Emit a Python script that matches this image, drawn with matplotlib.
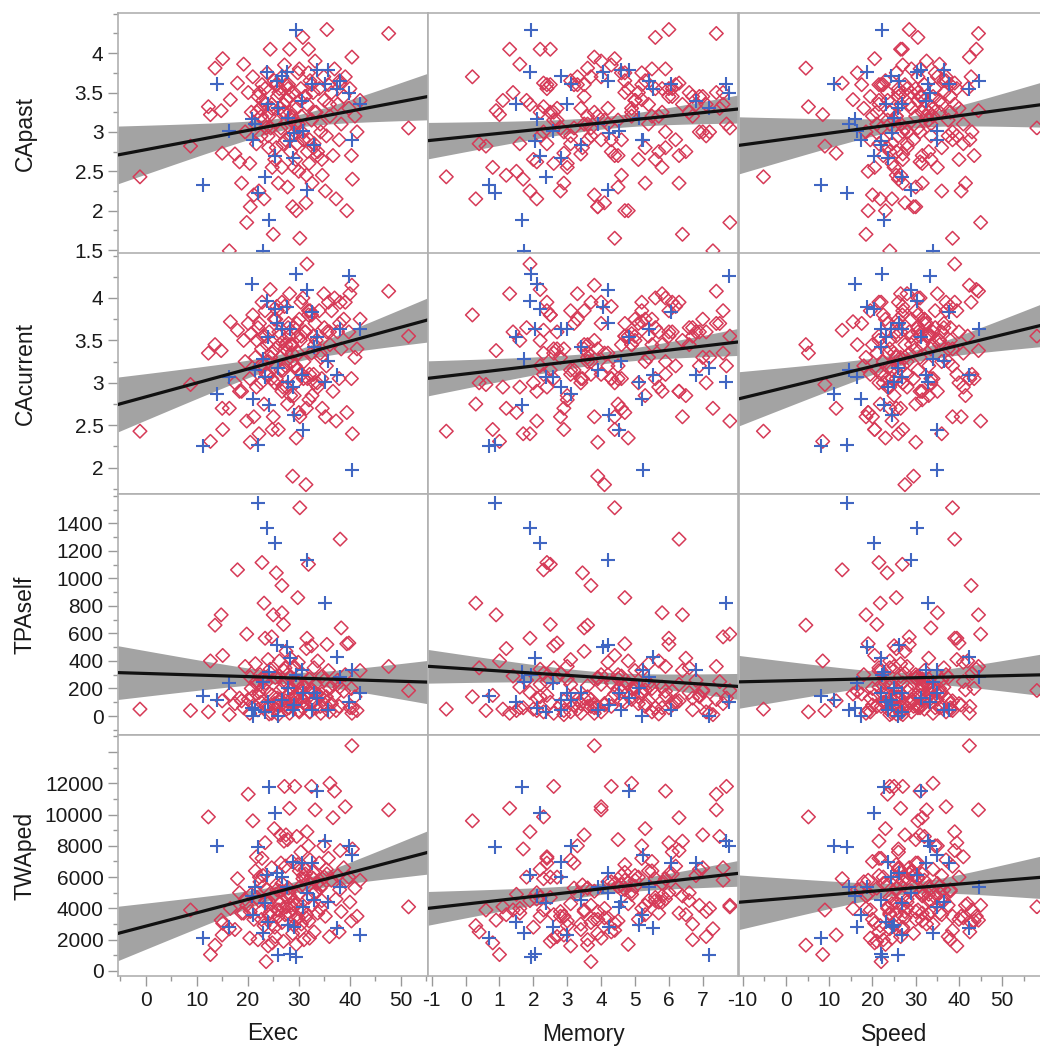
import numpy as np
import matplotlib.pyplot as plt
from matplotlib.ticker import MultipleLocator, FixedLocator

plt.rcParams['font.family'] = ['Liberation Sans', 'DejaVu Sans']

# ---- group A (red diamonds) ----
exec_a = [-1.1, 8.8, 12.3, 12.7, 13.6, 14.8, 15.1, 15.0, 16.4, 16.6,
          17.5, 18.0, 18.4, 39.4, 19.2, 19.5, 19.8, 20.1, 20.4, 20.7,
          21.0, 21.2, 21.5, 21.7, 22.0, 22.2, 22.4, 22.8, 22.6, 23.0,
          23.2, 23.4, 23.6, 23.8, 36.7, 24.2, 24.4, 24.7, 24.8, 25.0,
          25.2, 25.4, 25.6, 25.8, 40.5, 26.2, 26.4, 26.7, 26.7, 27.0,
          27.2, 27.4, 27.6, 27.8, 28.0, 28.2, 28.4, 28.6, 28.8, 29.0,
          29.2, 29.4, 29.8, 29.6, 30.0, 30.2, 30.4, 30.6, 30.8, 31.0,
          31.2, 31.4, 31.6, 31.9, 32.0, 32.2, 32.5, 32.6, 32.8, 33.0,
          33.2, 33.4, 33.7, 34.0, 34.3, 34.6, 34.9, 35.5, 35.2, 35.8,
          36.1, 36.4, 24.0, 37.0, 37.3, 37.6, 37.9, 38.1, 38.3, 38.8,
          39.1, 18.8, 39.8, 40.0, 40.3, 40.4, 41.0, 41.4, 42.0, 47.6,
          23.1, 25.3, 27.1, 28.5, 30.1, 31.5, 33.1, 26.5, 29.5, 51.5,
          22.3, 24.7, 26.9, 28.1, 29.9, 32.5, 34.5, 36.0, 20.5, 38.0,
          21.8, 24.1, 27.5, 30.5, 32.1, 35.0, 25.7, 29.1, 31.9, 26.0,
          26.3, 29.7, 31.3, 24.5, 33.6, 27.9, 22.7, 35.4, 30.3, 28.7,
          25.5, 32.9, 27.3, 30.9, 23.5, 34.2, 29.3, 26.1, 31.7, 28.3]
memory_a = [-0.57, 0.6, 2.3, 1.0, 3.6, 0.9, 4.4, 2.9, 7.3, 5.2,
            3.4, 2.3, 2.1, 4.7, 1.6, 5.9, 7.8, 7.4, 2.6, 4.9,
            0.2, 3.8, 5.4, 2.4, 6.7, 1.9, 4.2, 2.4, 7.1, 5.0,
            0.3, 6.0, 3.7, 4.6, 6.3, 5.7, 2.2, 7.6, 0.8, 6.4,
            5.3, 2.7, 3.45, 3.5, 1.7, 4.8, 7.0, 3.7, 5.8, 2.5,
            4.3, 6.2, 1.1, 4.5, 3.2, 1.3, 6.5, 5.5, 3.9, 6.6,
            7.7, 5.1, 4.7, 7.5, 1.5, 4.4, 6.1, 2.3, 5.6, 3.6,
            6.9, 4.1, 1.9, 2.5, 3.0, 3.1, 2.6, 5.3, 4.7, 0.4,
            4.0, 3.8, 5.7, 2.4, 7.2, 4.6, 3.3, 6.0, 2.8, 5.2,
            4.9, 7.6, 3.1, 5.9, 2.1, 6.8, 4.3, 6.3, 3.5, 7.0,
            4.0, 6.3, 2.7, 5.8, 4.5, 3.8, 3.6, 2.9, 5.0, 7.4,
            4.5, 2.0, 6.4, 3.7, 5.5, 1.2, 6.6, 3.2, 4.8, 7.8,
            5.1, 3.4, 1.6, 6.0, 4.2, 2.5, 5.6, 7.1, 3.9, 4.7,
            2.2, 5.3, 3.5, 6.7, 4.0, 1.8, 6.2, 3.0, 5.2, 2.9,
            4.9, 3.1, 6.1, 2.8, 4.4, 5.6, 3.9, 2.2, 5.0, 4.1,
            3.3, 5.9, 2.6, 4.6, 5.4, 3.6, 6.9, 1.4, 4.3, 5.8]
speed_a = [-5.2, 9.0, 5.2, 8.5, 4.6, 44.5, 20.5, 11.6, 24.0, 15.5,
           27.0, 13.0, 31.0, 19.0, 35.5, 28.0, 45.0, 23.5, 24.5, 33.0,
           30.5, 20.0, 26.5, 41.0, 38.0, 36.0, 18.0, 21.5, 33.5, 21.5,
           21.8, 39.5, 22.0, 16.5, 31.5, 25.5, 44.0, 28.5, 20.5, 18.5,
           23.0, 37.5, 23.4, 19.5, 26.0, 42.0, 31.0, 42.8, 35.0, 21.0,
           27.0, 38.5, 23.5, 30.0, 17.5, 26.5, 33.0, 20.0, 29.5, 36.5,
           24.0, 40.0, 25.5, 32.0, 19.0, 38.5, 26.0, 43.0, 30.5, 22.5,
           34.0, 27.5, 39.0, 26.9, 31.5, 37.0, 25.0, 41.5, 29.0, 21.5,
           32.5, 38.0, 24.0, 30.0, 18.5, 26.5, 35.0, 28.5, 40.5, 22.0,
           34.0, 27.0, 39.5, 31.0, 24.5, 36.0, 42.5, 39.0, 33.5, 26.0,
           37.0, 31.5, 40.0, 28.0, 43.5, 42.4, 25.5, 38.5, 32.0, 44.5,
           33.0, 27.0, 21.5, 37.5, 29.0, 25.5, 35.5, 30.5, 23.0, 58.0,
           26.0, 34.0, 28.0, 31.0, 41.0, 22.5, 33.5, 26.5, 30.0, 36.5,
           24.0, 36.0, 27.5, 32.5, 19.5, 30.5, 38.0, 25.0, 34.5, 27.0,
           29.0, 24.5, 31.5, 27.5, 22.5, 34.5, 30.0, 26.0, 35.5, 23.5,
           32.0, 28.0, 24.0, 29.5, 33.0, 21.0, 27.0, 30.5, 25.5, 31.5]
capast_a = [2.43, 2.82, 3.32, 3.22, 3.81, 3.27, 3.93, 2.73, 1.49, 3.41,
            2.72, 3.62, 2.62, 2.00, 3.86, 3.00, 1.85, 3.50, 2.60, 3.25,
            3.70, 2.20, 3.10, 2.85, 3.45, 2.25, 3.30, 3.60, 2.95, 3.40,
            2.15, 3.55, 3.05, 3.75, 2.70, 3.20, 4.05, 3.35, 2.55, 1.70,
            3.65, 3.15, 2.80, 3.45, 2.40, 3.55, 3.00, 3.70, 2.55, 3.25,
            3.85, 2.90, 3.40, 2.30, 3.60, 4.05, 2.75, 3.20, 2.05, 3.50,
            3.10, 2.65, 3.75, 3.30, 2.50, 1.65, 3.55, 3.00, 4.20, 2.90,
            3.45, 2.10, 3.35, 4.05, 2.60, 3.65, 3.15, 2.35, 3.50, 2.85,
            3.90, 3.25, 2.75, 3.55, 3.00, 2.45, 3.70, 4.30, 2.25, 3.60,
            3.20, 3.50, 2.95, 3.80, 2.15, 3.35, 2.90, 3.62, 3.10, 3.45,
            3.70, 2.35, 3.30, 3.55, 2.70, 3.95, 3.20, 3.00, 3.40, 4.25,
            3.15, 2.65, 3.35, 2.95, 3.80, 2.45, 3.25, 3.05, 2.00, 3.05,
            3.50, 3.30, 2.85, 3.45, 3.10, 3.60, 2.65, 3.35, 2.05, 3.65,
            3.25, 2.80, 3.60, 3.20, 2.90, 3.40, 3.60, 2.55, 3.75, 2.35,
            3.30, 2.85, 3.45, 3.05, 2.70, 3.55, 3.20, 2.95, 3.40, 3.15,
            3.60, 2.80, 3.25, 2.90, 3.35, 3.10, 3.00, 3.50, 2.75, 3.25]
cacurrent_a = [2.43, 2.98, 3.35, 2.31, 3.45, 3.38, 2.45, 2.70, 2.70, 3.72,
               3.00, 3.62, 2.90, 2.65, 3.50, 3.25, 2.55, 3.70, 3.05, 3.58,
               3.80, 2.60, 3.30, 2.95, 3.65, 2.40, 3.20, 3.95, 3.00, 3.55,
               2.75, 3.85, 3.10, 3.45, 2.90, 3.60, 4.10, 3.35, 2.45, 2.60,
               3.75, 3.40, 3.05, 3.85, 2.40, 3.55, 3.30, 3.95, 2.90, 3.15,
               3.90, 3.20, 2.95, 2.75, 3.70, 4.05, 2.85, 3.45, 1.90, 3.65,
               3.20, 3.00, 3.55, 3.70, 2.65, 2.60, 3.95, 3.10, 4.00, 3.25,
               3.60, 1.80, 4.40, 3.80, 2.80, 3.85, 3.35, 2.85, 3.55, 3.00,
               3.70, 3.50, 2.95, 3.85, 3.30, 2.70, 4.05, 3.60, 2.60, 3.95,
               3.45, 3.85, 3.10, 4.00, 2.55, 3.60, 3.05, 3.95, 3.40, 3.75,
               3.95, 2.90, 3.60, 4.05, 3.05, 4.15, 3.30, 3.40, 3.75, 4.08,
               3.20, 3.00, 3.50, 3.25, 3.75, 2.70, 3.45, 3.15, 2.35, 3.55,
               3.70, 3.05, 2.95, 3.55, 3.35, 3.80, 3.05, 3.60, 2.30, 3.70,
               3.50, 3.25, 3.45, 3.55, 3.10, 3.65, 3.90, 2.85, 3.85, 2.45,
               3.45, 3.15, 3.60, 3.30, 3.00, 3.65, 3.40, 3.20, 3.50, 3.35,
               3.75, 3.10, 3.40, 3.05, 3.55, 3.35, 3.20, 3.60, 3.05, 3.45]
tpaself_a = [50, 40, 30, 400, 660, 735, 440, 110, 10, 160,
             90, 1062, 130, 525, 60, 360, 595, 120, 20, 200,
             140, 80, 380, 250, 45, 170, 300, 1115, 100, 210,
             820, 565, 70, 180, 230, 15, 340, 575, 150, 735,
             90, 280, 1040, 130, 60, 400, 190, 948, 750, 665,
             240, 110, 50, 300, 160, 20, 420, 200, 70, 350,
             130, 90, 860, 250, 40, 1513, 180, 310, 60, 220,
             140, 80, 565, 1102, 270, 30, 510, 190, 100, 350,
             230, 60, 400, 150, 20, 290, 120, 520, 80, 330,
             200, 90, 410, 150, 40, 260, 70, 1285, 640, 180,
             300, 110, 530, 60, 200, 20, 140, 40, 330, 360,
             270, 50, 330, 120, 30, 490, 170, 80, 240, 185,
             140, 20, 210, 60, 390, 100, 160, 30, 280, 210,
             230, 70, 470, 130, 30, 260, 90, 360, 180, 10,
             120, 230, 80, 310, 160, 60, 270, 140, 200, 90,
             50, 180, 350, 110, 240, 70, 150, 290, 130, 210]
twaped_a = [np.nan, 3900, 9850, 1050, 1650, 3250, 3050, 2300, 2700, 4000,
            2650, 5900, 5000, 5800, 3700, 4600, 4200, 11300, 2100, 4900,
            9600, 3300, 6400, 7300, 2000, 4500, 5700, 7200, 3800, 6100,
            2900, 8200, 600, 5200, 9800, 4400, 3500, 6600, 1800, 4800,
            9100, 2200, 5500, 3900, 7800, 4300, 8700, 3100, 5600, 1900,
            11800, 6700, 4100, 8400, 5300, 10400, 3600, 7000, 2400, 4500,
            11800, 3300, 6800, 8600, 4900, 2600, 7600, 3900, 5900, 2000,
            6500, 3400, 8900, 4700, 3200, 7100, 11800, 4200, 6300, 2500,
            10300, 5100, 3700, 6900, 4000, 5500, 8000, 6200, 3500, 7200,
            12000, 5800, 1600, 11500, 4600, 6100, 2500, 7700, 3800, 6600,
            10500, 3700, 6000, 4400, 3200, 14400, 5300, 3500, 5800, 10300,
            5400, 2800, 8300, 4200, 6400, 3600, 5000, 6900, 1700, 4100,
            6000, 3000, 4000, 5000, 3400, 6000, 4500, 2200, 3800, 5200,
            4700, 3600, 8700, 3000, 2100, 6000, 5200, 2900, 8000, 3500,
            5100, 4300, 6200, 3800, 5600, 4700, 3300, 6500, 5400, 4000,
            4900, 5900, 3600, 6100, 4500, 5300, 4200, 3900, 5700, 4800]

# ---- group B (blue plus) ----
exec_b = [11.2, 14.0, 16.4, 20.8, 21.1, 21.4, 22.1, 22.9, 23.4, 23.7,
          23.9, 24.2, 25.4, 25.7, 25.9, 26.7, 27.6, 27.8, 28.3, 28.9,
          29.0, 29.5, 30.6, 30.9, 31.6, 32.5, 32.9, 33.5, 35.2, 35.8,
          37.5, 38.1, 39.9, 40.4, 42.0]
memory_b = [0.69, 3.12, 2.58, 2.11, 5.22, 3.90, 0.86, 1.71, 2.38, 1.90,
            1.48, 1.65, 2.20, 4.19, 7.19, 2.82, 4.05, 5.13, 2.04, 2.82,
            4.24, 1.94, 6.80, 4.54, 4.20, 6.06, 3.41, 4.83, 7.70, 4.60,
            5.52, 5.42, 7.77, 5.24, 3.00]
speed_b = [8.1, 11.2, 16.5, 16.0, 17.3, 14.6, 14.2, 33.9, 26.9, 30.3,
           23.1, 22.7, 20.4, 26.2, 25.8, 24.2, 18.8, 25.0, 22.0, 23.5,
           24.6, 22.2, 32.3, 35.0, 28.9, 37.7, 21.9, 31.2, 32.9, 36.6,
           42.3, 44.6, 33.3, 35.0, 26.9]
capast_b = [2.33, 3.61, 3.01, 3.17, 2.90, 3.10, 2.22, 1.49, 2.43, 3.76,
            3.35, 1.88, 2.69, 3.65, 3.31, 3.71, 3.76, 3.18, 2.88, 2.67,
            2.99, 4.30, 3.39, 3.01, 2.26, 3.61, 2.84, 3.78, 3.61, 3.78,
            3.55, 3.65, 3.50, 2.90, 3.35]
cacurrent_b = [2.25, 2.87, 3.07, 4.16, 2.81, 3.15, 2.27, 3.28, 3.07, 3.97,
               3.54, 2.74, 3.87, 3.71, 3.17, 3.64, 3.89, 3.01, 3.64, 2.95,
               2.62, 4.28, 3.09, 2.44, 4.09, 3.83, 3.42, 3.54, 3.01, 3.26,
               3.09, 3.64, 4.26, 1.97, 3.64]
tpaself_b = [145, 116, 238, 60, 0, 44, 1547, 250, 30, 1365,
             100, 322, 1260, 516, 0, 116, 504, 200, 420, 44,
             80, 300, 335, 165, 1135, 44, 165, 130, 820, 44,
             431, 280, 104, 335, 165]
twaped_b = [2089, 7987, 2831, 4800, 3600, 5387, 7904, 2400, 4326, 6134,
            3150, 11776, 10077, 6243, 1022, 6026, 5387, 2939, 1100, 6984,
            2831, 914, 6882, 4109, 4965, 6882, 4537, 11520, 8326, 4428,
            2728, 5387, 7987, 7412, 2300]

x_names = ['Exec', 'Memory', 'Speed']
y_names = ['CApast', 'CAcurrent', 'TPAself', 'TWAped']
xa = {'Exec': exec_a, 'Memory': memory_a, 'Speed': speed_a}
xb = {'Exec': exec_b, 'Memory': memory_b, 'Speed': speed_b}
ya = {'CApast': capast_a, 'CAcurrent': cacurrent_a, 'TPAself': tpaself_a, 'TWAped': twaped_a}
yb = {'CApast': capast_b, 'CAcurrent': cacurrent_b, 'TPAself': tpaself_b, 'TWAped': twaped_b}

# axis settings
xlims = {'Exec': (-5.4, 55.3), 'Memory': (-1.11, 8.04), 'Speed': (-10.85, 60.8)}
xmajor = {'Exec': [0, 10, 20, 30, 40, 50], 'Memory': [-1, 0, 1, 2, 3, 4, 5, 6, 7],
          'Speed': [-10, 0, 10, 20, 30, 40, 50]}
xminor = {'Exec': 5, 'Memory': None, 'Speed': 5}
ylims = {'CApast': (1.45, 4.51), 'CAcurrent': (1.69, 4.53),
         'TPAself': (-138, 1613), 'TWAped': (-320, 15086)}
ymajor = {'CApast': [1.5, 2, 2.5, 3, 3.5, 4], 'CAcurrent': [2, 2.5, 3, 3.5, 4],
          'TPAself': [0, 200, 400, 600, 800, 1000, 1200, 1400],
          'TWAped': [0, 2000, 4000, 6000, 8000, 10000, 12000, 14000]}
yminor = {'CApast': 0.25, 'CAcurrent': 0.25, 'TPAself': 100, 'TWAped': 1000}

red = '#D63A57'
blue = '#4066C2'
band_col = '#A3A3A3'
frame = '#B0B0B0'


def fit_band(x, y, xs):
    ok = ~np.isnan(x) & ~np.isnan(y)
    x, y = x[ok], y[ok]
    n = len(x)
    b1, b0 = np.polyfit(x, y, 1)
    s = np.sqrt(np.sum((y - (b0 + b1 * x)) ** 2) / (n - 2))
    sxx = np.sum((x - x.mean()) ** 2)
    se = s * np.sqrt(1 / n + (xs - x.mean()) ** 2 / sxx)
    return b0 + b1 * xs, 1.97 * se


W, H = 1040, 1047
col_left = [118, 428, 739]
col_w = 310
row_top = [13, 253, 494, 735]
row_h = 241

fig = plt.figure(figsize=(W / 100, H / 100), dpi=100)

for i, yn in enumerate(y_names):
    for j, xn in enumerate(x_names):
        ax = fig.add_axes([col_left[j] / W, 1 - (row_top[i] + row_h) / H,
                           col_w / W, row_h / H])
        x_all = np.array(xa[xn] + xb[xn], dtype=float)
        y_all = np.array(ya[yn] + yb[yn], dtype=float)
        xs = np.linspace(*xlims[xn], 200)
        yhat, hw = fit_band(x_all, y_all, xs)
        ax.fill_between(xs, yhat - hw, yhat + hw, color=band_col, lw=0, zorder=1)
        ax.scatter(xa[xn], ya[yn], marker='D', s=48, facecolors='none',
                   edgecolors=red, linewidths=1.1, zorder=2)
        ax.scatter(xb[xn], yb[yn], marker='+', s=90, c=blue,
                   linewidths=1.5, zorder=3)
        ax.plot(xs, yhat, color='#111111', lw=2.3, zorder=4)

        ax.set_xlim(*xlims[xn])
        ax.set_ylim(*ylims[yn])
        for sp in ax.spines.values():
            sp.set_color(frame)
            sp.set_linewidth(1.2)

        ax.xaxis.set_major_locator(FixedLocator(xmajor[xn]))
        if xminor[xn]:
            ax.xaxis.set_minor_locator(MultipleLocator(xminor[xn]))
        ax.yaxis.set_major_locator(FixedLocator(ymajor[yn]))
        ax.yaxis.set_minor_locator(MultipleLocator(yminor[yn]))
        ax.tick_params(which='both', direction='out', color='#999999',
                       labelsize=15, labelcolor='#1a1a1a', width=1)
        ax.tick_params(which='major', length=7)
        ax.tick_params(which='minor', length=3.5)

        ax.tick_params(axis='x', which='both', bottom=(i == 3), labelbottom=(i == 3))
        ax.tick_params(axis='y', which='both', left=(j == 0), labelleft=(j == 0))
        if j == 0:
            labels = [f'{v:g}' for v in ymajor[yn]]
            if yn == 'TWAped':
                labels[-1] = ''
            ax.set_yticklabels(labels)
        if i == 3:
            ax.set_xticklabels([f'{v:g}' for v in xmajor[xn]])

    fig.text(25 / W, 1 - (row_top[i] + row_h / 2) / H, yn, rotation=90,
             ha='center', va='center', fontsize=16.5, color='#1a1a1a')

for j, xn in enumerate(x_names):
    fig.text((col_left[j] + col_w / 2) / W, 1 - 1034 / H, xn,
             ha='center', va='center', fontsize=16.5, color='#1a1a1a')

fig.savefig('out.png', dpi=100)
